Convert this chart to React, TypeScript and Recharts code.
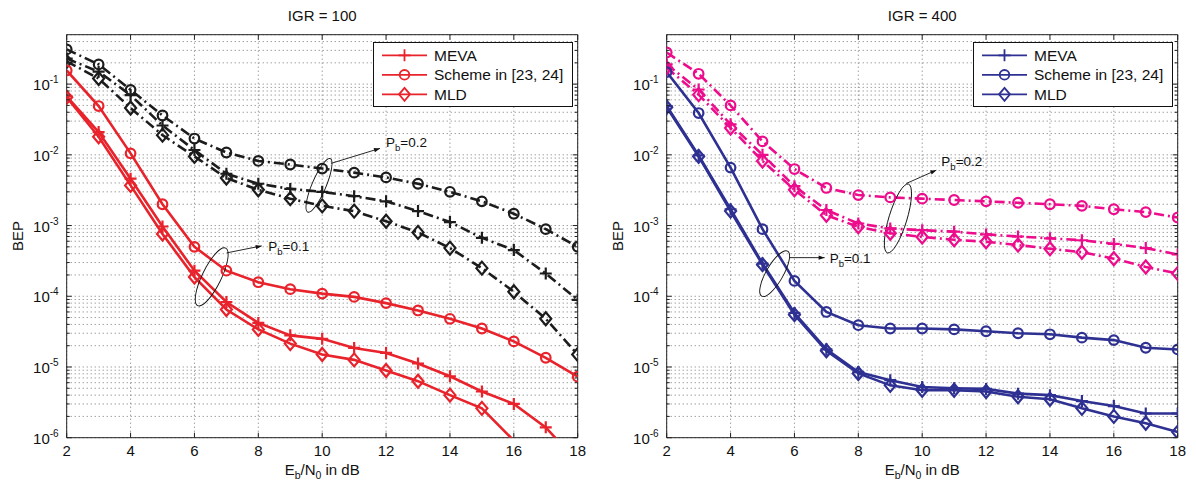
import React from 'react';
import {
  LineChart,
  Line,
  XAxis,
  YAxis,
  CartesianGrid,
  Legend,
  ReferenceArea,
  ReferenceDot,
} from 'recharts';

const FONT = '"Liberation Sans", Arial, Helvetica, sans-serif';

const ebn0 = [2, 3, 4, 5, 6, 7, 8, 9, 10, 11, 12, 13, 14, 15, 16, 17, 18];
const xTicks = [2, 4, 6, 8, 10, 12, 14, 16, 18];
const decades = [1e-6, 1e-5, 1e-4, 1e-3, 1e-2, 1e-1];
const Y_MIN = 1e-6;
const Y_MAX = 0.5;

// IGR = 100, Pb = 0.1 (red, solid)
const meva100Low = [0.067, 0.021, 0.0046, 0.00097, 0.00023, 0.000083, 0.000042, 0.000028, 0.000025, 0.0000186, 0.0000158, 0.0000112, 0.0000074, 0.0000045, 0.000003, 0.0000014, 0.00000045];
const scheme100Low = [0.156, 0.049, 0.0105, 0.002, 0.0005, 0.00023, 0.000158, 0.000126, 0.000109, 0.000098, 0.00008, 0.000063, 0.000048, 0.000035, 0.000023, 0.0000135, 0.0000073];
const mld100Low = [0.065, 0.018, 0.0037, 0.00076, 0.000187, 0.000065, 0.000034, 0.0000214, 0.000015, 0.0000126, 0.0000089, 0.0000063, 0.000004, 0.0000026, 0.00000091, 0.0000003, 0.0000001];

// IGR = 100, Pb = 0.2 (black, dash-dot)
const meva100High = [0.23, 0.15, 0.07, 0.026, 0.0117, 0.0054, 0.0039, 0.0033, 0.003, 0.0026, 0.0022, 0.0016, 0.00112, 0.00067, 0.00045, 0.00021, 0.000089];
const scheme100High = [0.31, 0.19, 0.083, 0.036, 0.017, 0.0108, 0.0082, 0.0073, 0.0064, 0.0056, 0.0048, 0.0039, 0.003, 0.0022, 0.00147, 0.00089, 0.0005];
const mld100High = [0.21, 0.12, 0.046, 0.019, 0.0095, 0.0047, 0.0032, 0.0024, 0.0019, 0.0016, 0.00115, 0.0008, 0.00048, 0.00025, 0.000116, 0.000048, 0.000015];

// IGR = 400, Pb = 0.1 (blue, solid)
const meva400Low = [0.049, 0.0098, 0.0017, 0.00029, 0.000058, 0.0000178, 0.0000085, 0.0000065, 0.0000052, 0.000005, 0.0000049, 0.0000042, 0.000004, 0.0000033, 0.0000028, 0.0000022, 0.0000022];
const scheme400Low = [0.148, 0.039, 0.0066, 0.00089, 0.000165, 0.00006, 0.000039, 0.000035, 0.000035, 0.000034, 0.000032, 0.00003, 0.000029, 0.000026, 0.000024, 0.0000187, 0.0000177];
const mld400Low = [0.047, 0.0095, 0.0016, 0.00028, 0.000055, 0.000017, 0.0000081, 0.0000055, 0.0000047, 0.0000047, 0.0000045, 0.0000038, 0.0000035, 0.0000026, 0.000002, 0.0000016, 0.0000012];

// IGR = 400, Pb = 0.2 (magenta, dash-dot)
const meva400High = [0.19, 0.084, 0.027, 0.01, 0.0036, 0.00166, 0.00107, 0.00091, 0.00086, 0.00082, 0.00075, 0.0007, 0.00066, 0.00062, 0.00055, 0.00048, 0.00039];
const scheme400High = [0.28, 0.14, 0.05, 0.0155, 0.0063, 0.0034, 0.0027, 0.0025, 0.0024, 0.0023, 0.0022, 0.0021, 0.002, 0.0019, 0.0017, 0.00155, 0.0013];
const mld400High = [0.17, 0.071, 0.024, 0.0082, 0.0032, 0.0014, 0.00096, 0.00078, 0.00069, 0.00063, 0.00059, 0.00053, 0.00047, 0.00042, 0.00034, 0.00026, 0.00021];

const keys = ['meva', 'scheme', 'mld'];
const seriesNames = { meva: 'MEVA', scheme: 'Scheme in [23, 24]', mld: 'MLD' };
const markerOf: Record<string, string> = { meva: 'plus', scheme: 'circle', mld: 'diamond' };

// log grid: 1..9 inside each decade
const yTicks: number[] = [];
decades.forEach((d) => {
  for (let m = 1; m <= 9; m++) {
    if (m * d < Y_MAX) yTicks.push(m * d);
  }
});

const PLOT_W = 511;
const PLOT_H = 403;

const Marker = ({ shape, x, y, color, sw = 2.2 }: any) => {
  if (shape === 'plus') {
    return <path d={`M${x - 6},${y}H${x + 6}M${x},${y - 6}V${y + 6}`} stroke={color} strokeWidth={sw} fill="none" />;
  }
  if (shape === 'circle') {
    return <circle cx={x} cy={y} r={4.8} stroke={color} strokeWidth={sw} fill="none" />;
  }
  return (
    <polygon
      points={`${x},${y - 6.5} ${x + 5.5},${y} ${x},${y + 6.5} ${x - 5.5},${y}`}
      stroke={color}
      strokeWidth={sw}
      fill="none"
    />
  );
};

const makeDot = (shape: string, color: string) => (props: any) => {
  const { cx, cy, value, index } = props;
  if (cx == null || cy == null || value == null || value < Y_MIN) return <g key={`d${index}`} />;
  return (
    <g key={`d${index}`}>
      <Marker shape={shape} x={cx} y={cy} color={color} />
    </g>
  );
};

const XTick = ({ x, y, payload }: any) => (
  <g>
    <line x1={x} y1={y} x2={x} y2={y - 5} stroke="#222" />
    <line x1={x} y1={y - PLOT_H} x2={x} y2={y - PLOT_H + 5} stroke="#222" />
    <text x={x} y={y + 18.5} textAnchor="middle" fontSize={15} fill="#111" fontFamily={FONT}>
      {payload.value}
    </text>
  </g>
);

const YTick = ({ x, y, payload }: any) => {
  const v = payload.value;
  const exp = Math.round(Math.log10(v));
  const major = Math.abs(Math.log10(v) - exp) < 1e-6;
  const len = major ? 5 : 3;
  return (
    <g>
      <line x1={x} y1={y} x2={x + len} y2={y} stroke="#222" />
      <line x1={x + PLOT_W - len} y1={y} x2={x + PLOT_W} y2={y} stroke="#222" />
      {major && (
        <text x={x - 8} y={y + 6} textAnchor="end" fontSize={15} fill="#111" fontFamily={FONT}>
          10
          <tspan dy={-7} fontSize={10}>
            {`${exp}`}
          </tspan>
        </text>
      )}
    </g>
  );
};

const LegendBox = ({ payload }: any) => {
  const items = (payload || [])
    .filter((p: any) => p.type !== 'none' && keys.includes(p.dataKey))
    .sort((a: any, b: any) => keys.indexOf(a.dataKey) - keys.indexOf(b.dataKey));
  return (
    <svg width={200} height={65} style={{ display: 'block' }}>
      <rect x={0.5} y={0.5} width={199} height={64} fill="#fff" stroke="#111" />
      {items.map((p: any, i: number) => {
        const cy = 13.3 + i * 19.5;
        return (
          <g key={p.dataKey}>
            <line x1={9} y1={cy} x2={54} y2={cy} stroke={p.color} strokeWidth={1.8} />
            <Marker shape={markerOf[p.dataKey]} x={31.5} y={cy} color={p.color} sw={1.8} />
            <text x={61} y={cy + 5.5} fontSize={15.5} fill="#111" fontFamily={FONT}>
              {p.value}
            </text>
          </g>
        );
      })}
    </svg>
  );
};

const Note = ({ cx, cy, note }: any) => {
  const [fx, fy] = note.from;
  const [tx, ty] = note.to;
  const ang = Math.atan2(ty - fy, tx - fx);
  const hx = cx + tx;
  const hy = cy + ty;
  const head = `${hx},${hy} ${hx - 6 * Math.cos(ang) + 2.2 * Math.sin(ang)},${hy - 6 * Math.sin(ang) - 2.2 * Math.cos(ang)} ${hx - 6 * Math.cos(ang) - 2.2 * Math.sin(ang)},${hy - 6 * Math.sin(ang) + 2.2 * Math.cos(ang)}`;
  return (
    <g>
      <ellipse
        cx={cx}
        cy={cy}
        rx={note.rx}
        ry={note.ry}
        transform={`rotate(${note.angle} ${cx} ${cy})`}
        fill="none"
        stroke="#111"
        strokeWidth={0.9}
      />
      <line x1={cx + fx} y1={cy + fy} x2={hx} y2={hy} stroke="#111" strokeWidth={0.9} />
      <polygon points={head} fill="#111" />
      <text x={cx + note.text[0]} y={cy + note.text[1]} fontSize={13.5} fill="#111" fontFamily={FONT}>
        P
        <tspan dy={4} fontSize={9.5}>
          b
        </tspan>
        <tspan dy={-4}>{`=${note.label}`}</tspan>
      </text>
    </g>
  );
};

const notes100 = [
  { x: 9.9, y: 0.0037, rx: 7, ry: 29, angle: 23, from: [12, -22], to: [61, -37], text: [67, -38], label: '0.2' },
  { x: 6.54, y: 1.88e-4, rx: 9.5, ry: 32, angle: 26, from: [15, -24], to: [50, -31], text: [56.6, -26], label: '0.1' },
];
const notes400 = [
  { x: 9.24, y: 1.26e-3, rx: 9, ry: 36, angle: 17, from: [8.4, -35], to: [38.4, -48.3], text: [43.4, -52.3], label: '0.2' },
  { x: 5.38, y: 2.09e-4, rx: 8.5, ry: 26, angle: 30, from: [15, -16], to: [50, -16], text: [55, -10.6], label: '0.1' },
];

function Panel({ left, title, low, high, lowColor, highColor, notes }: any) {
  const data = ebn0.map((x, i) => ({
    x,
    meva: low.meva[i],
    scheme: low.scheme[i],
    mld: low.mld[i],
    mevaHi: high.meva[i],
    schemeHi: high.scheme[i],
    mldHi: high.mld[i],
  }));
  return (
    <div style={{ position: 'absolute', left, top: 0, width: 600, height: 485 }}>
      <svg width={600} height={485} style={{ position: 'absolute', left: 0, top: 0 }}>
        <text x={66.7 + PLOT_W / 2} y={21} textAnchor="middle" fontSize={15} fill="#111" fontFamily={FONT}>
          {title}
        </text>
        <text x={66.7 + PLOT_W / 2} y={475} textAnchor="middle" fontSize={15} fill="#111" fontFamily={FONT}>
          E<tspan dy={4} fontSize={10.5}>b</tspan>
          <tspan dy={-4}>/N</tspan>
          <tspan dy={4} fontSize={10.5}>0</tspan>
          <tspan dy={-4}> in dB</tspan>
        </text>
        <text
          x={23}
          y={236}
          transform="rotate(-90 23 236)"
          textAnchor="middle"
          fontSize={15}
          fill="#111"
          fontFamily={FONT}
        >
          BEP
        </text>
      </svg>
      <div style={{ position: 'absolute', left: 0, top: 0 }}>
        <LineChart width={600} height={485} data={data} margin={{ top: 34.7, right: 22.3, bottom: 17.3, left: 16.7 }}>
          <CartesianGrid stroke="#555" strokeWidth={0.8} strokeDasharray="1 3" />
          <XAxis
            dataKey="x"
            type="number"
            domain={[2, 18]}
            ticks={xTicks}
            interval={0}
            allowDataOverflow
            axisLine={false}
            tickLine={false}
            tickSize={0}
            tickMargin={0}
            height={30}
            tick={<XTick />}
          />
          <YAxis
            type="number"
            scale="log"
            domain={[Y_MIN, Y_MAX]}
            ticks={yTicks}
            interval={0}
            allowDataOverflow
            axisLine={false}
            tickLine={false}
            tickSize={0}
            tickMargin={0}
            width={50}
            tick={<YTick />}
          />
          <ReferenceArea x1={2} x2={18} y1={Y_MIN} y2={Y_MAX} fill="none" stroke="#222" strokeWidth={1} />
          {keys.map((k) => (
            <Line
              key={`${k}Hi`}
              type="linear"
              dataKey={`${k}Hi`}
              stroke={highColor}
              strokeWidth={2.6}
              strokeDasharray="10 4 2 4"
              dot={makeDot(markerOf[k], highColor)}
              activeDot={false}
              legendType="none"
              isAnimationActive={false}
            />
          ))}
          {keys.map((k) => (
            <Line
              key={k}
              type="linear"
              dataKey={k}
              name={(seriesNames as any)[k]}
              stroke={lowColor}
              strokeWidth={2.6}
              dot={makeDot(markerOf[k], lowColor)}
              activeDot={false}
              isAnimationActive={false}
            />
          ))}
          {notes.map((n: any, i: number) => (
            <ReferenceDot
              key={i}
              x={n.x}
              y={n.y}
              r={0}
              ifOverflow="visible"
              shape={(p: any) => <Note cx={p.cx} cy={p.cy} note={n} />}
            />
          ))}
          <Legend
            layout="vertical"
            align="center"
            verticalAlign="middle"
            content={<LegendBox />}
            wrapperStyle={{ left: 373, top: 42, width: 200, height: 65 }}
          />
        </LineChart>
      </div>
    </div>
  );
}

export default function App() {
  return (
    <div style={{ position: 'absolute', left: 0, top: 0, width: 1196, height: 485, background: '#fff', fontFamily: FONT }}>
      <Panel
        left={0}
        title="IGR = 100"
        low={{ meva: meva100Low, scheme: scheme100Low, mld: mld100Low }}
        high={{ meva: meva100High, scheme: scheme100High, mld: mld100High }}
        lowColor="#e8232b"
        highColor="#1c1c1c"
        notes={notes100}
      />
      <Panel
        left={600}
        title="IGR = 400"
        low={{ meva: meva400Low, scheme: scheme400Low, mld: mld400Low }}
        high={{ meva: meva400High, scheme: scheme400High, mld: mld400High }}
        lowColor="#2e3192"
        highColor="#ec0c8c"
        notes={notes400}
      />
    </div>
  );
}
